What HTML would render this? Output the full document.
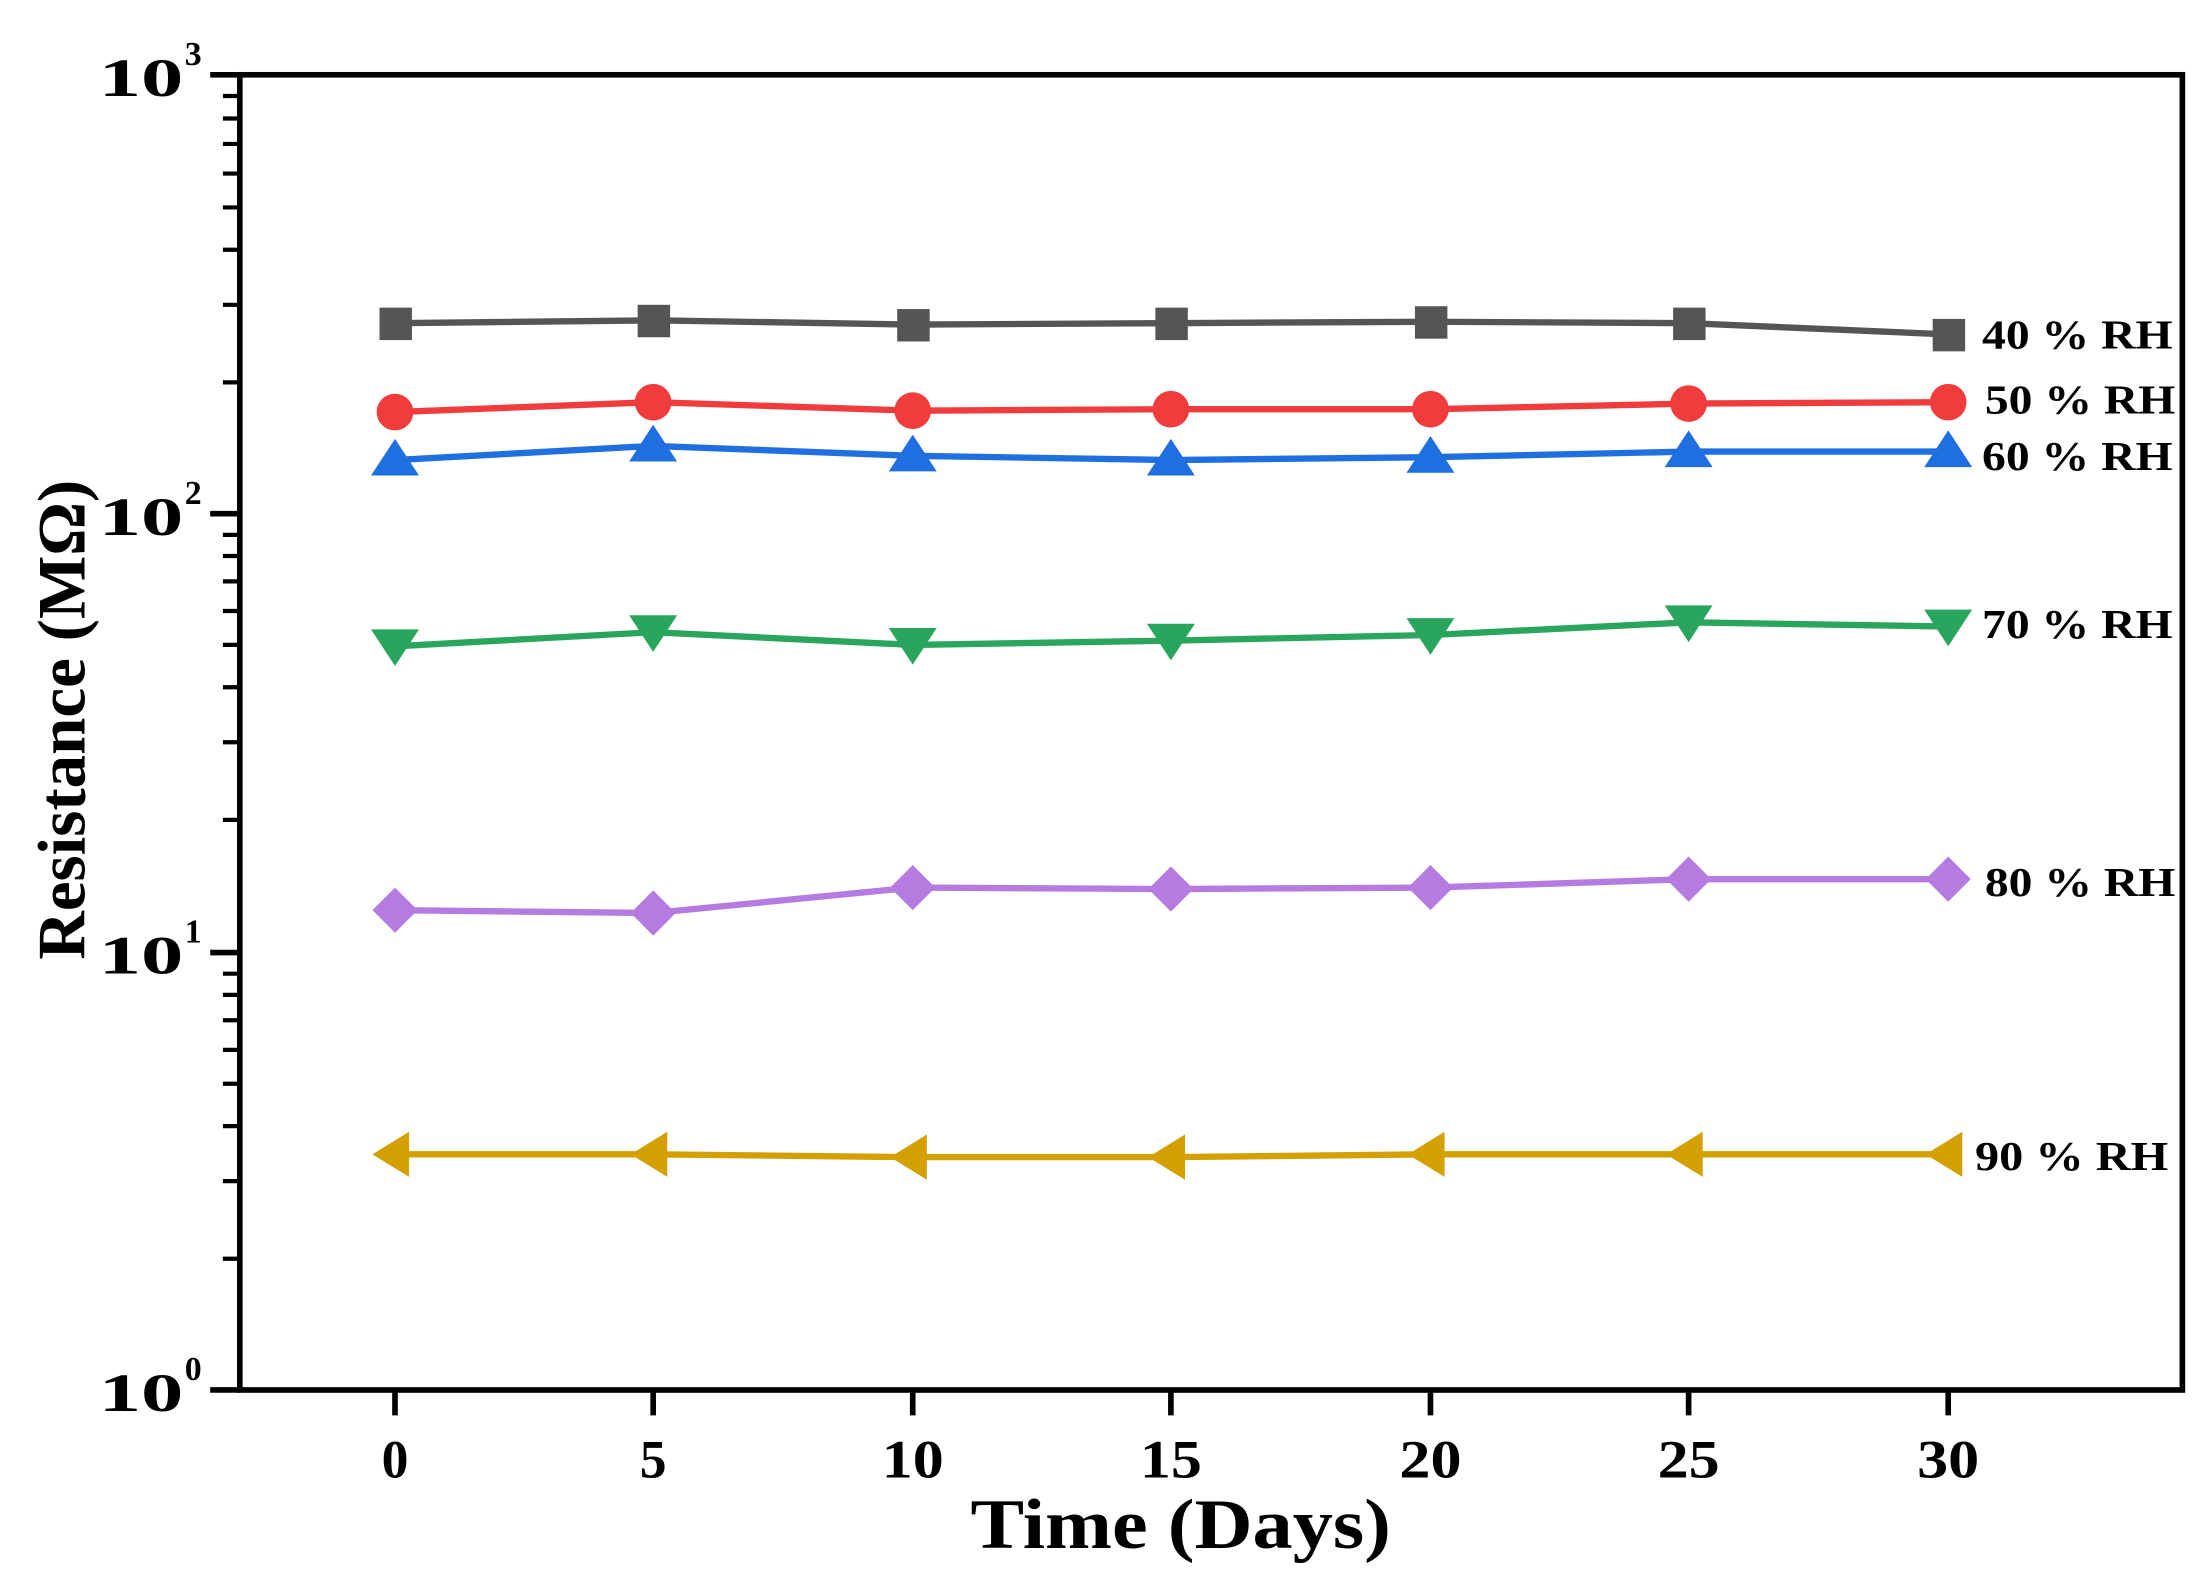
<!DOCTYPE html>
<html><head><meta charset="utf-8"><style>
html,body{margin:0;padding:0;background:#fff;}
svg{display:block;}
text{font-family:"Liberation Serif",serif;font-weight:bold;fill:#000;}
</style></head><body>
<svg width="2212" height="1596" viewBox="0 0 1568 1131" preserveAspectRatio="none" xmlns="http://www.w3.org/2000/svg">
<g stroke="#000" stroke-width="4" fill="none">
<rect x="170" y="53" width="1377" height="932"/>
<line x1="149" y1="53" x2="170" y2="53"/>
<line x1="149" y1="364" x2="170" y2="364"/>
<line x1="149" y1="675" x2="170" y2="675"/>
<line x1="149" y1="985" x2="170" y2="985"/>
<line x1="280" y1="985" x2="280" y2="1003"/>
<line x1="463" y1="985" x2="463" y2="1003"/>
<line x1="647" y1="985" x2="647" y2="1003"/>
<line x1="830" y1="985" x2="830" y2="1003"/>
<line x1="1014" y1="985" x2="1014" y2="1003"/>
<line x1="1197" y1="985" x2="1197" y2="1003"/>
<line x1="1381" y1="985" x2="1381" y2="1003"/>
</g>
<g stroke="#000" stroke-width="3">
<path d="M158 892H170M158 837H170M158 798H170M158 768H170M158 744H170M158 723H170M158 705H170M158 690H170
M158 581H170M158 526H170M158 487H170M158 457H170M158 433H170M158 412H170M158 394H170M158 379H170
M158 271H170M158 216H170M158 177H170M158 147H170M158 123H170M158 102H170M158 84H170M158 68H170"/>
</g>
<g fill="none" stroke-width="4.5">
<polyline stroke="#555" points="280,229 463,227 647,230 830,229 1014,228 1197,229 1381,237"/>
<polyline stroke="#f03c3c" points="280,292 463,285 647,291 830,290 1014,290 1197,286 1381,285"/>
<polyline stroke="#1f6fe0" points="280,326 463,316 647,323 830,326 1014,324 1197,320 1381,320"/>
<polyline stroke="#2aa55e" points="280,458 463,448 647,457 830,454 1014,450 1197,441 1381,444"/>
<polyline stroke="#b57be0" points="280,645 463,647 647,629 830,630 1014,629 1197,623 1381,623"/>
<polyline stroke="#d4a000" points="280,818 463,818 647,820 830,820 1014,818 1197,818 1381,818"/>
</g>
<g fill="#555">
<rect x="269" y="218" width="23" height="23"/><rect x="452" y="216" width="23" height="23"/><rect x="636" y="219" width="23" height="23"/><rect x="819" y="218" width="23" height="23"/><rect x="1003" y="217" width="23" height="23"/><rect x="1186" y="218" width="23" height="23"/><rect x="1370" y="226" width="23" height="23"/>
</g>
<g fill="#f03c3c">
<circle cx="280" cy="292" r="13"/><circle cx="463" cy="285" r="13"/><circle cx="647" cy="291" r="13"/><circle cx="830" cy="290" r="13"/><circle cx="1014" cy="290" r="13"/><circle cx="1197" cy="286" r="13"/><circle cx="1381" cy="285" r="13"/>
</g>
<g fill="#1f6fe0">
<path d="M280 311l17 26h-34z M463 301l17 26h-34z M647 308l17 26h-34z M830 311l17 26h-34z M1014 309l17 26h-34z M1197 305l17 26h-34z M1381 305l17 26h-34z"/>
</g>
<g fill="#2aa55e">
<path d="M280 472l17 -26h-34z M463 462l17 -26h-34z M647 471l17 -26h-34z M830 468l17 -26h-34z M1014 464l17 -26h-34z M1197 455l17 -26h-34z M1381 458l17 -26h-34z"/>
</g>
<g fill="#b57be0">
<path d="M280 629l16 16-16 16-16-16z M463 631l16 16-16 16-16-16z M647 613l16 16-16 16-16-16z M830 614l16 16-16 16-16-16z M1014 613l16 16-16 16-16-16z M1197 607l16 16-16 16-16-16z M1381 607l16 16-16 16-16-16z"/>
</g>
<g fill="#d4a000">
<path d="M264 818l26 -16v32z M447 818l26 -16v32z M631 820l26 -16v32z M814 820l26 -16v32z M998 818l26 -16v32z M1181 818l26 -16v32z M1365 818l26 -16v32z"/>
</g>
<g font-size="29">
<text x="1405" y="247" textLength="135" lengthAdjust="spacingAndGlyphs">40 % RH</text>
<text x="1407" y="293" textLength="135" lengthAdjust="spacingAndGlyphs">50 % RH</text>
<text x="1405" y="333" textLength="135" lengthAdjust="spacingAndGlyphs">60 % RH</text>
<text x="1405" y="452" textLength="135" lengthAdjust="spacingAndGlyphs">70 % RH</text>
<text x="1407" y="635" textLength="135" lengthAdjust="spacingAndGlyphs">80 % RH</text>
<text x="1400" y="829" textLength="137" lengthAdjust="spacingAndGlyphs">90 % RH</text>
</g>
<g font-size="38">
<text x="70" y="68" textLength="60" lengthAdjust="spacingAndGlyphs">10</text><text x="131" y="46" font-size="24">3</text>
<text x="70" y="379" textLength="60" lengthAdjust="spacingAndGlyphs">10</text><text x="131" y="357" font-size="24">2</text>
<text x="70" y="690" textLength="60" lengthAdjust="spacingAndGlyphs">10</text><text x="131" y="668" font-size="24">1</text>
<text x="70" y="1000" textLength="60" lengthAdjust="spacingAndGlyphs">10</text><text x="131" y="978" font-size="24">0</text>
</g>
<g font-size="38" text-anchor="middle">
<text x="280" y="1047">0</text><text x="463" y="1047">5</text><text x="647" y="1047" textLength="44" lengthAdjust="spacingAndGlyphs">10</text><text x="830" y="1047" textLength="44" lengthAdjust="spacingAndGlyphs">15</text><text x="1014" y="1047" textLength="44" lengthAdjust="spacingAndGlyphs">20</text><text x="1197" y="1047" textLength="44" lengthAdjust="spacingAndGlyphs">25</text><text x="1381" y="1047" textLength="44" lengthAdjust="spacingAndGlyphs">30</text>
</g>
<text x="688" y="1097" font-size="50" textLength="298" lengthAdjust="spacingAndGlyphs">Time (Days)</text>
<text transform="translate(60,680) rotate(-90)" font-size="48" textLength="340" lengthAdjust="spacingAndGlyphs">Resistance (MΩ)</text>
</svg>
</body></html>
